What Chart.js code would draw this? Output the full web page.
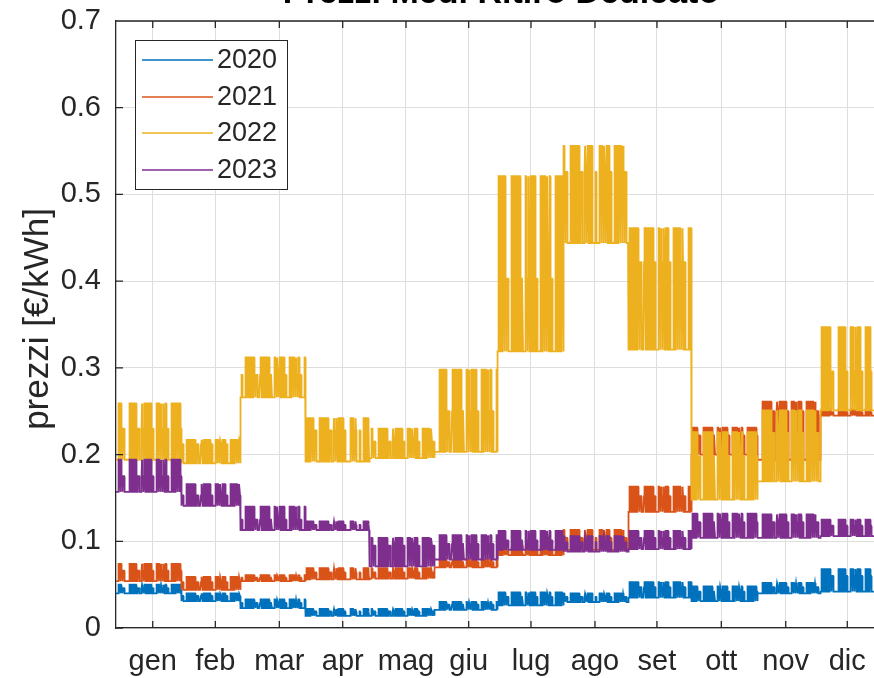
<!DOCTYPE html>
<html lang="it">
<head>
<meta charset="UTF-8">
<title>Prezzi Medi Ritiro Dedicato</title>
<script src="https://cdn.jsdelivr.net/npm/chart.js@4"></script>
<style>
  html, body { margin: 0; padding: 0; background: #fff; overflow: hidden; }
  #prezzi { display: block; }
</style>
</head>
<body>
<canvas id="prezzi" width="874" height="678"></canvas>
<script>
// month labels and tick positions (hour of the year)
const months = ['gen', 'feb', 'mar', 'apr', 'mag', 'giu', 'lug', 'ago', 'set', 'ott', 'nov', 'dic'];
const tickHours = [418, 1130, 1858, 2579, 3299, 4012, 4721, 5449, 6154, 6886, 7619, 8319];
const monthDays = [31, 28, 31, 30, 31, 30, 31, 31, 30, 31, 30, 31];
const yTicks = [0, 0.1, 0.2, 0.3, 0.4, 0.5, 0.6, 0.7];

// calendar used for the hourly time bands (1 Jan = Wednesday)
const firstWeekday = 3;
const holidays = [0, 5, 110, 114, 120, 152, 226, 304, 341, 358, 359];

// monthly prices per band [€/kWh]: F1 = peak, F2 = intermediate, F3 = off-peak
const f1_2020 = [0.050, 0.040, 0.033, 0.022, 0.022, 0.030, 0.041, 0.040, 0.053, 0.048, 0.052, 0.068];
const f2_2020 = [0.046, 0.037, 0.029, 0.019, 0.019, 0.027, 0.036, 0.036, 0.047, 0.042, 0.047, 0.060];
const f3_2020 = [0.040, 0.031, 0.023, 0.014, 0.014, 0.021, 0.026, 0.030, 0.035, 0.031, 0.040, 0.042];

const f1_2021 = [0.074, 0.059, 0.061, 0.069, 0.069, 0.079, 0.093, 0.113, 0.163, 0.231, 0.261, 0.252];
const f2_2021 = [0.066, 0.053, 0.058, 0.064, 0.064, 0.076, 0.089, 0.104, 0.152, 0.222, 0.250, 0.249];
const f3_2021 = [0.054, 0.044, 0.054, 0.056, 0.057, 0.070, 0.084, 0.090, 0.134, 0.200, 0.194, 0.245];

const f1_2022 = [0.259, 0.217, 0.312, 0.242, 0.230, 0.298, 0.521, 0.556, 0.461, 0.226, 0.251, 0.347];
const f2_2022 = [0.230, 0.212, 0.292, 0.228, 0.215, 0.250, 0.403, 0.526, 0.422, 0.198, 0.225, 0.296];
const f3_2022 = [0.194, 0.190, 0.266, 0.192, 0.196, 0.203, 0.319, 0.444, 0.321, 0.148, 0.169, 0.251];

const f1_2023 = [0.194, 0.166, 0.140, 0.123, 0.104, 0.107, 0.112, 0.106, 0.112, 0.132, 0.131, 0.125];
const f2_2023 = [0.175, 0.153, 0.125, 0.119, 0.095, 0.097, 0.101, 0.099, 0.104, 0.122, 0.122, 0.118];
const f3_2023 = [0.157, 0.141, 0.113, 0.113, 0.071, 0.079, 0.090, 0.088, 0.091, 0.104, 0.104, 0.106];

const years = ['2020', '2021', '2022', '2023'];
const colors = ['#0072BD', '#D95319', '#EDB120', '#7E2F8E'];

const FONT = '"Liberation Sans", Arial, Helvetica, sans-serif';
const TXT = '#262626';

// which band (1,2,3) an hour falls in
function band(day, h) {
  const wd = (firstWeekday + day) % 7;
  if (wd === 0 || holidays.includes(day)) return 3;
  if (wd === 6) return (h >= 7 && h < 23) ? 2 : 3;
  if (h >= 8 && h < 19) return 1;
  if (h === 7 || (h >= 19 && h < 23)) return 2;
  return 3;
}

// hourly series: each hour takes its month's price for its band
function hourly(f1, f2, f3) {
  const out = [];
  let day = 0;
  for (let m = 0; m < 12; m++) {
    for (let d = 0; d < monthDays[m]; d++, day++) {
      for (let h = 0; h < 24; h++) {
        const b = band(day, h);
        out.push({ x: day * 24 + h, y: b === 1 ? f1[m] : b === 2 ? f2[m] : f3[m] });
      }
    }
  }
  return out;
}

const series = [
  hourly(f1_2020, f2_2020, f3_2020),
  hourly(f1_2021, f2_2021, f3_2021),
  hourly(f1_2022, f2_2022, f3_2022),
  hourly(f1_2023, f2_2023, f3_2023)
];

// title (cut at the top), y label, legend box, box line and inward ticks
const decor = {
  id: 'decor',
  afterDraw(chart) {
    const ctx = chart.ctx;
    const a = chart.chartArea;
    const xs = chart.scales.x, ys = chart.scales.y;
    ctx.save();
    ctx.fillStyle = '#000';
    ctx.font = 'bold 34px ' + FONT;
    ctx.textAlign = 'center';
    ctx.textBaseline = 'alphabetic';
    ctx.fillText('Prezzi Medi Ritiro Dedicato', 501, 3);

    ctx.fillStyle = TXT;
    ctx.font = '35px ' + FONT;
    ctx.translate(38, 319);
    ctx.rotate(-Math.PI / 2);
    ctx.textBaseline = 'middle';
    ctx.fillText('prezzi [€/kWh]', 0, 0);
    ctx.restore();

    ctx.save();
    ctx.strokeStyle = TXT;
    ctx.lineWidth = 1.3;
    ctx.beginPath();
    ctx.moveTo(a.left, a.top);
    ctx.lineTo(a.right, a.top);
    tickHours.forEach(t => {
      const px = xs.getPixelForValue(t);
      ctx.moveTo(px, a.top);
      ctx.lineTo(px, a.top + 7);
      ctx.moveTo(px, a.bottom);
      ctx.lineTo(px, a.bottom - 7);
    });
    yTicks.forEach(v => {
      const py = ys.getPixelForValue(v);
      ctx.moveTo(a.left, py);
      ctx.lineTo(a.left + 7, py);
    });
    ctx.stroke();

    // legend
    const lx = 135, ly = 40, lw = 152, lh = 149;
    ctx.fillStyle = '#fff';
    ctx.fillRect(lx, ly, lw, lh);
    ctx.strokeStyle = TXT;
    ctx.lineWidth = 1;
    ctx.strokeRect(lx + 0.5, ly + 0.5, lw, lh);
    const rows = [60, 97, 133, 170];
    ctx.font = '27px ' + FONT;
    ctx.textBaseline = 'middle';
    ctx.textAlign = 'left';
    years.forEach((yr, i) => {
      ctx.strokeStyle = colors[i];
      ctx.lineWidth = 1.5;
      ctx.beginPath();
      ctx.moveTo(142, rows[i]);
      ctx.lineTo(213, rows[i]);
      ctx.stroke();
      ctx.fillStyle = TXT;
      ctx.fillText(yr, 217, rows[i] + 1);
    });
    ctx.restore();
  }
};

// drop the extra room Chart.js keeps for the end labels
function noPad(s) {
  s.paddingTop = 0;
  s.paddingBottom = 0;
  s.paddingLeft = 0;
  s.paddingRight = 0;
}

new Chart(document.getElementById('prezzi'), {
  type: 'line',
  data: {
    datasets: years.map((yr, i) => ({
      label: yr,
      data: series[i],
      borderColor: colors[i],
      backgroundColor: colors[i],
      borderWidth: 1.8,
      pointRadius: 0,
      tension: 0,
      fill: false,
      order: 4 - i
    }))
  },
  options: {
    responsive: false,
    animation: false,
    parsing: false,
    normalized: true,
    events: [],
    layout: { padding: { top: 21, right: 0, left: 0, bottom: 0 } },
    plugins: { legend: { display: false }, tooltip: { enabled: false }, title: { display: false } },
    scales: {
      x: {
        type: 'linear',
        min: 0,
        max: 8623,
        afterBuildTicks: s => { s.ticks = tickHours.map(v => ({ value: v })); },
        afterFit: s => { s.height = 50; noPad(s); },
        ticks: {
          autoSkip: false,
          maxRotation: 0,
          padding: 17,
          color: TXT,
          font: { family: FONT, size: 29 },
          callback: (v, i) => months[i]
        },
        grid: { color: '#dedede', lineWidth: 1, drawTicks: false },
        border: { color: TXT, width: 1.3 }
      },
      y: {
        min: 0,
        max: 0.7,
        afterBuildTicks: s => { s.ticks = yTicks.map(v => ({ value: v })); },
        afterFit: s => { s.width = 116; noPad(s); },
        ticks: {
          padding: 15,
          color: TXT,
          font: { family: FONT, size: 29 },
          callback: v => (v === 0 ? '0' : v.toFixed(1))
        },
        grid: { color: '#dedede', lineWidth: 1, drawTicks: false },
        border: { color: TXT, width: 1.3 }
      }
    }
  },
  plugins: [decor]
});
</script>
</body>
</html>
